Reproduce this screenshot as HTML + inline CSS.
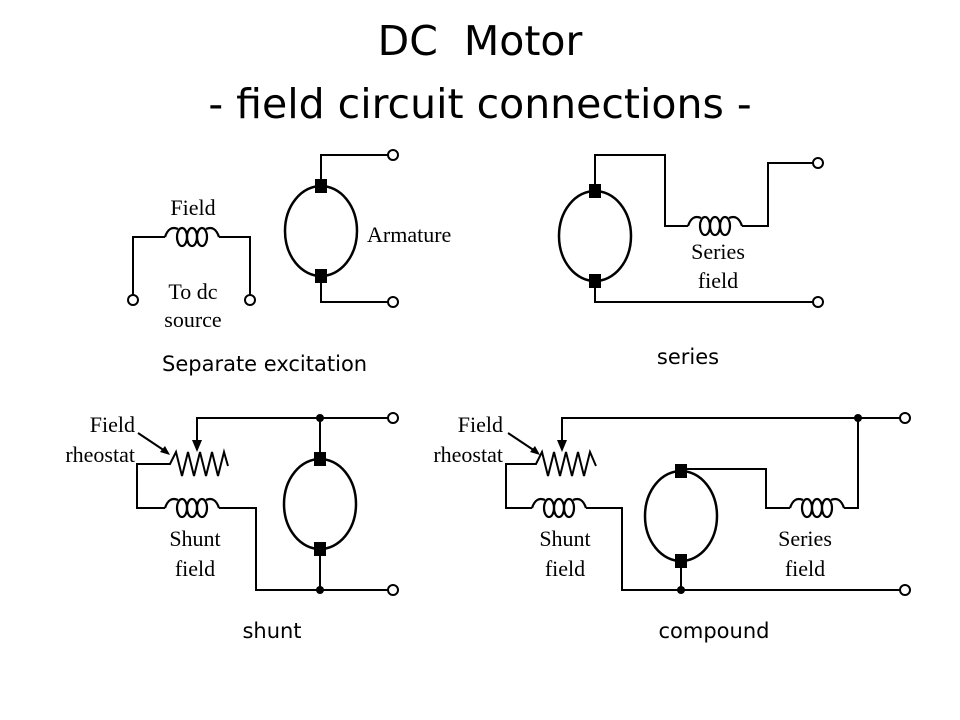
<!DOCTYPE html>
<html><head><style>
body{margin:0;background:#fff;}
svg{display:block}
.s{font-family:"DejaVu Sans",sans-serif;}
.r{font-family:"Liberation Serif",serif;font-size:22px;}
</style></head><body>
<svg width="960" height="720" viewBox="0 0 960 720" xmlns="http://www.w3.org/2000/svg">
<defs>
<g id="coil" fill="none" stroke="#000" stroke-width="2.2">
<path d="M0 0 Q4 -12 13 -8"/>
<ellipse cx="17" cy="0" rx="5" ry="9"/>
<ellipse cx="27" cy="0" rx="5" ry="9"/>
<ellipse cx="37" cy="0" rx="5" ry="9"/>
<path d="M41 -8 Q50 -12 54 0"/>
</g>
<g id="mot">
<ellipse cx="0" cy="0" rx="36" ry="45" fill="none" stroke="#000" stroke-width="2.5"/>
<rect x="-6" y="-52" width="12" height="14" fill="#000"/>
<rect x="-6" y="38" width="12" height="14" fill="#000"/>
</g>
</defs>
<text x="480" y="55" class="s" font-size="41" text-anchor="middle">DC&#160; Motor</text>
<text x="480" y="118" class="s" font-size="41" text-anchor="middle">- field circuit connections -</text>
<g stroke="#000" stroke-width="2" fill="none">
<polyline points="133,295 133,237 165,237"/>
<polyline points="219,237 250,237 250,295"/>
<polyline points="321,186 321,155 388,155"/>
<polyline points="321,276 321,302 388,302"/>
<polyline points="595,190 595,155 665,155 665,226 688,226"/>
<polyline points="742,226 768,226 768,163 813,163"/>
<polyline points="595,280 595,302 813,302"/>
<polyline points="388,418 197,418 197,445"/>
<polyline points="165,464 137,464 137,508 165,508"/>
<polyline points="219,508 256,508 256,590 388,590"/>
<polyline points="165,464 170,464 176,452 182,476 188,452 194,476 200,452 206,476 212,452 218,476 224,452 228,466"/>
<line x1="320" y1="418" x2="320" y2="462"/>
<line x1="320" y1="546" x2="320" y2="590"/>
<line x1="138" y1="433" x2="168" y2="453"/>
<polyline points="900,418 562,418 562,445"/>
<polyline points="530,464 506,464 506,508 532,508"/>
<polyline points="586,508 622,508 622,590 900,590"/>
<polyline points="530,464 536,464 542,452 548,476 554,452 560,476 566,452 572,476 578,452 584,476 590,452 596,466"/>
<polyline points="681,470 681,469 766,469 766,508 790,508"/>
<polyline points="844,508 858,508 858,418"/>
<line x1="681" y1="558" x2="681" y2="590"/>
<line x1="508" y1="433" x2="538" y2="453"/>
</g>
<g fill="#fff" stroke="#000" stroke-width="2">
<circle cx="133" cy="300" r="5"/><circle cx="250" cy="300" r="5"/>
<circle cx="393" cy="155" r="5"/><circle cx="393" cy="302" r="5"/>
<circle cx="818" cy="163" r="5"/><circle cx="818" cy="302" r="5"/>
<circle cx="393" cy="418" r="5"/><circle cx="393" cy="590" r="5"/>
<circle cx="905" cy="418" r="5"/><circle cx="905" cy="590" r="5"/>
</g>
<g fill="#000">
<circle cx="320" cy="418" r="4"/><circle cx="320" cy="590" r="4"/>
<circle cx="858" cy="418" r="4"/><circle cx="681" cy="590" r="4"/>
<polygon points="192,440 202,440 197,452"/>
<polygon points="557,440 567,440 562,452"/>
<polygon points="170,455 160,452 165,446"/>
<polygon points="540,455 530,452 535,446"/>
</g>
<use href="#coil" x="165" y="237"/>
<use href="#coil" x="688" y="226"/>
<use href="#coil" x="165" y="508"/>
<use href="#coil" x="532" y="508"/>
<use href="#coil" x="790" y="508"/>
<use href="#mot" x="321" y="231"/>
<use href="#mot" x="595" y="236"/>
<use href="#mot" x="320" y="504"/>
<use href="#mot" x="681" y="516"/>
<g class="r">
<text x="193" y="215" text-anchor="middle">Field</text>
<text x="193" y="299" text-anchor="middle">To dc</text>
<text x="193" y="327" text-anchor="middle">source</text>
<text x="367" y="242">Armature</text>
<text x="718" y="259" text-anchor="middle">Series</text>
<text x="718" y="288" text-anchor="middle">field</text>
<text x="135" y="432" text-anchor="end">Field</text>
<text x="135" y="462" text-anchor="end">rheostat</text>
<text x="195" y="546" text-anchor="middle">Shunt</text>
<text x="195" y="576" text-anchor="middle">field</text>
<text x="503" y="432" text-anchor="end">Field</text>
<text x="503" y="462" text-anchor="end">rheostat</text>
<text x="565" y="546" text-anchor="middle">Shunt</text>
<text x="565" y="576" text-anchor="middle">field</text>
<text x="805" y="546" text-anchor="middle">Series</text>
<text x="805" y="576" text-anchor="middle">field</text>
</g>
<g class="s" font-size="21">
<text x="162" y="371">Separate excitation</text>
<text x="688" y="364" text-anchor="middle">series</text>
<text x="272" y="638" text-anchor="middle">shunt</text>
<text x="714" y="638" text-anchor="middle">compound</text>
</g>
</svg>
</body></html>
